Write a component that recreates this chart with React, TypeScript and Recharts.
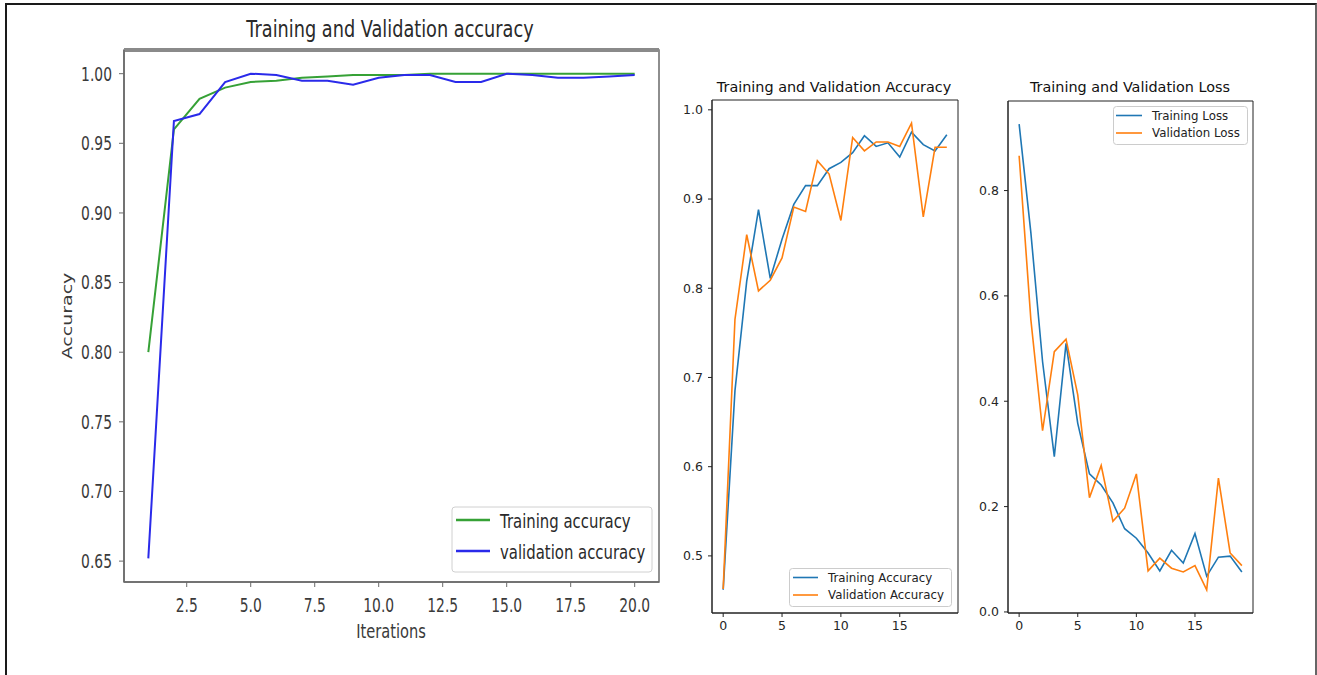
import React from 'react';
import { LineChart, Line, XAxis, YAxis, ReferenceArea, ReferenceLine } from 'recharts';

// ---------- Data ----------
const iterations = [1, 2, 3, 4, 5, 6, 7, 8, 9, 10, 11, 12, 13, 14, 15, 16, 17, 18, 19, 20];
const trainingAccuracy = [0.800, 0.960, 0.982, 0.990, 0.994, 0.995, 0.997, 0.998, 0.999, 0.999, 0.999, 1.000, 1.000, 1.000, 1.000, 1.000, 1.000, 1.000, 1.000, 1.000];
const validationAccuracy = [0.652, 0.966, 0.971, 0.994, 1.000, 0.999, 0.995, 0.995, 0.992, 0.997, 0.999, 0.999, 0.994, 0.994, 1.000, 0.999, 0.997, 0.997, 0.998, 0.999];

const epochs = [0, 1, 2, 3, 4, 5, 6, 7, 8, 9, 10, 11, 12, 13, 14, 15, 16, 17, 18, 19];
const epochTrainAcc = [0.462, 0.685, 0.808, 0.888, 0.811, 0.855, 0.894, 0.915, 0.915, 0.934, 0.941, 0.952, 0.971, 0.959, 0.963, 0.947, 0.975, 0.961, 0.954, 0.972];
const epochValAcc = [0.463, 0.765, 0.860, 0.797, 0.809, 0.834, 0.891, 0.886, 0.943, 0.928, 0.876, 0.969, 0.954, 0.964, 0.964, 0.959, 0.985, 0.880, 0.958, 0.958];
const epochTrainLoss = [0.926, 0.720, 0.475, 0.295, 0.510, 0.358, 0.262, 0.241, 0.207, 0.158, 0.140, 0.112, 0.078, 0.117, 0.093, 0.149, 0.068, 0.104, 0.106, 0.076];
const epochValLoss = [0.866, 0.555, 0.344, 0.494, 0.518, 0.412, 0.217, 0.278, 0.172, 0.197, 0.262, 0.078, 0.102, 0.083, 0.076, 0.088, 0.042, 0.254, 0.112, 0.088];

const leftXTicks = [2.5, 5, 7.5, 10, 12.5, 15, 17.5, 20];
const leftYTicks = [0.65, 0.7, 0.75, 0.8, 0.85, 0.9, 0.95, 1.0];
const accYTicks = [0.5, 0.6, 0.7, 0.8, 0.9, 1.0];
const lossYTicks = [0, 0.2, 0.4, 0.6, 0.8];
const epochTicks = [0, 5, 10, 15];

const leftData = iterations.map((x, i) => ({ x, train: trainingAccuracy[i], val: validationAccuracy[i] }));
const accData = epochs.map((x, i) => ({ x, train: epochTrainAcc[i], val: epochValAcc[i] }));
const lossData = epochs.map((x, i) => ({ x, train: epochTrainLoss[i], val: epochValLoss[i] }));

const FONT = 'DejaVu Sans';
const GREEN = '#36a136';
const BLUE = '#2a2aea';
const MPL_BLUE = '#1f77b4';
const MPL_ORANGE = '#ff7f0e';

const LeftXTick = (p: any) => (
  <g transform={`translate(${p.x},${p.y})`}>
    <text textAnchor="middle" dy="0.72em" fontSize={19} fontFamily={FONT} fill="#3a3a3a" transform="scale(0.73,1)">
      {Number(p.payload.value).toFixed(1)}
    </text>
  </g>
);
const LeftYTick = (p: any) => (
  <g transform={`translate(${p.x},${p.y})`}>
    <text textAnchor="end" dy="0.36em" fontSize={19} fontFamily={FONT} fill="#3a3a3a" transform="scale(0.73,1)">
      {Number(p.payload.value).toFixed(2)}
    </text>
  </g>
);

const tickStyle = { fontSize: 12.5, fontFamily: FONT, fill: '#262626' };

export default function App() {
  return (
    <div style={{ position: 'absolute', left: 0, top: 0, width: 1317, height: 675, overflow: 'hidden', background: '#fff' }}>
      <div style={{ position: 'absolute', left: 5, top: 3, width: 1308, height: 700, borderTop: '2px solid #1a1a1a', borderLeft: '2px solid #1a1a1a', borderRight: '2px solid #666' }} />

      {/* Left chart */}
      <div style={{ position: 'absolute', left: 0, top: 0 }}>
        <LineChart width={700} height={675} data={leftData} margin={{ top: 50, right: 41, bottom: 63, left: 0 }}>
          <XAxis type="number" dataKey="x" domain={[0.05, 20.95]} ticks={leftXTicks} allowDataOverflow height={30}
            tickSize={5} tickMargin={11} tick={(p: any) => <LeftXTick {...p} />}
            axisLine={{ stroke: '#6a6a6a', strokeWidth: 1.5 }} tickLine={{ stroke: '#6a6a6a' }} />
          <YAxis type="number" domain={[0.635, 1.017]} ticks={leftYTicks} allowDataOverflow width={124}
            tickSize={5} tickMargin={7} tick={(p: any) => <LeftYTick {...p} />}
            axisLine={{ stroke: '#6a6a6a', strokeWidth: 1.5 }} tickLine={{ stroke: '#6a6a6a' }} />
          <ReferenceArea x1={0.05} x2={20.95} y1={0.635} y2={1.017} fill="none" stroke="#6a6a6a" strokeWidth={1.5} ifOverflow="visible" />
          <ReferenceLine y={1.017} stroke="#8a8a8a" strokeWidth={4} ifOverflow="visible" />
          <Line type="linear" dataKey="train" stroke={GREEN} strokeWidth={2} dot={false} isAnimationActive={false} />
          <Line type="linear" dataKey="val" stroke={BLUE} strokeWidth={2} dot={false} isAnimationActive={false} />
        </LineChart>
      </div>

      {/* Middle chart */}
      <div style={{ position: 'absolute', left: 660, top: 0 }}>
        <LineChart width={310} height={660} data={accData} margin={{ top: 100, right: 12, bottom: 17, left: 0 }}>
          <XAxis type="number" dataKey="x" domain={[-0.95, 19.95]} ticks={epochTicks} allowDataOverflow height={30}
            tickSize={4} tickMargin={4} tick={tickStyle} axisLine={{ stroke: '#222' }} tickLine={{ stroke: '#222' }} />
          <YAxis type="number" domain={[0.436, 1.011]} ticks={accYTicks} allowDataOverflow width={52}
            tickSize={4} tickMargin={5} tick={tickStyle} tickFormatter={(v: number) => v.toFixed(1)}
            axisLine={{ stroke: '#222' }} tickLine={{ stroke: '#222' }} />
          <ReferenceArea x1={-0.95} x2={19.95} y1={0.436} y2={1.011} fill="none" stroke="#222" strokeWidth={1} ifOverflow="visible" />
          <Line type="linear" dataKey="train" stroke={MPL_BLUE} strokeWidth={1.6} dot={false} isAnimationActive={false} />
          <Line type="linear" dataKey="val" stroke={MPL_ORANGE} strokeWidth={1.6} dot={false} isAnimationActive={false} />
        </LineChart>
      </div>

      {/* Right chart */}
      <div style={{ position: 'absolute', left: 960, top: 0 }}>
        <LineChart width={310} height={660} data={lossData} margin={{ top: 101, right: 17, bottom: 17, left: 0 }}>
          <XAxis type="number" dataKey="x" domain={[-0.95, 19.95]} ticks={epochTicks} allowDataOverflow height={30}
            tickSize={4} tickMargin={4} tick={tickStyle} axisLine={{ stroke: '#222' }} tickLine={{ stroke: '#222' }} />
          <YAxis type="number" domain={[-0.002, 0.97]} ticks={lossYTicks} allowDataOverflow width={48}
            tickSize={4} tickMargin={5} tick={tickStyle} tickFormatter={(v: number) => v.toFixed(1)}
            axisLine={{ stroke: '#222' }} tickLine={{ stroke: '#222' }} />
          <ReferenceArea x1={-0.95} x2={19.95} y1={-0.002} y2={0.97} fill="none" stroke="#222" strokeWidth={1} ifOverflow="visible" />
          <Line type="linear" dataKey="train" stroke={MPL_BLUE} strokeWidth={1.6} dot={false} isAnimationActive={false} />
          <Line type="linear" dataKey="val" stroke={MPL_ORANGE} strokeWidth={1.6} dot={false} isAnimationActive={false} />
        </LineChart>
      </div>

      {/* Titles, labels, legends */}
      <svg width={1317} height={675} style={{ position: 'absolute', left: 0, top: 0, pointerEvents: 'none' }}>
        <g transform="translate(390,37) scale(0.77,1)">
          <text textAnchor="middle" fontSize={23} fontFamily={FONT} fill="#2a2a2a">Training and Validation accuracy</text>
        </g>
        <g transform="translate(391,638) scale(0.77,1)">
          <text textAnchor="middle" fontSize={19} fontFamily={FONT} fill="#3a3a3a">Iterations</text>
        </g>
        <g transform="translate(72,316) rotate(-90) scale(1,0.73)">
          <text textAnchor="middle" fontSize={19} fontFamily={FONT} fill="#3a3a3a">Accuracy</text>
        </g>

        {/* left legend */}
        <rect x={452} y={507} width={200} height={65} rx={3} fill="rgba(255,255,255,0.85)" stroke="#d0d0d0" strokeWidth={1} />
        <line x1={456} x2={490} y1={520} y2={520} stroke={GREEN} strokeWidth={2.5} />
        <line x1={456} x2={490} y1={551} y2={551} stroke={BLUE} strokeWidth={2.5} />
        <g transform="translate(500,528) scale(0.745,1)">
          <text fontSize={20} fontFamily={FONT} fill="#2a2a2a">Training accuracy</text>
        </g>
        <g transform="translate(500,559) scale(0.745,1)">
          <text fontSize={20} fontFamily={FONT} fill="#2a2a2a">validation accuracy</text>
        </g>

        <text x={834} y={92} textAnchor="middle" fontSize={14.4} fontFamily={FONT} fill="#111">Training and Validation Accuracy</text>
        <text x={1130} y={92} textAnchor="middle" fontSize={14.4} fontFamily={FONT} fill="#111">Training and Validation Loss</text>

        {/* middle legend */}
        <rect x={789.5} y={568.5} width={162} height={38} rx={3} fill="rgba(255,255,255,0.8)" stroke="#cccccc" strokeWidth={1} />
        <line x1={793} x2={818} y1={577.5} y2={577.5} stroke={MPL_BLUE} strokeWidth={1.6} />
        <line x1={793} x2={818} y1={595} y2={595} stroke={MPL_ORANGE} strokeWidth={1.6} />
        <text x={828} y={581.5} fontSize={11.8} fontFamily={FONT} fill="#222">Training Accuracy</text>
        <text x={828} y={599} fontSize={11.8} fontFamily={FONT} fill="#222">Validation Accuracy</text>

        {/* right legend */}
        <rect x={1113.5} y={106.5} width={134} height={38} rx={3} fill="rgba(255,255,255,0.8)" stroke="#cccccc" strokeWidth={1} />
        <line x1={1116} x2={1142} y1={115.5} y2={115.5} stroke={MPL_BLUE} strokeWidth={1.6} />
        <line x1={1116} x2={1142} y1={133} y2={133} stroke={MPL_ORANGE} strokeWidth={1.6} />
        <text x={1152} y={119.5} fontSize={11.8} fontFamily={FONT} fill="#222">Training Loss</text>
        <text x={1152} y={137} fontSize={11.8} fontFamily={FONT} fill="#222">Validation Loss</text>
      </svg>
    </div>
  );
}
